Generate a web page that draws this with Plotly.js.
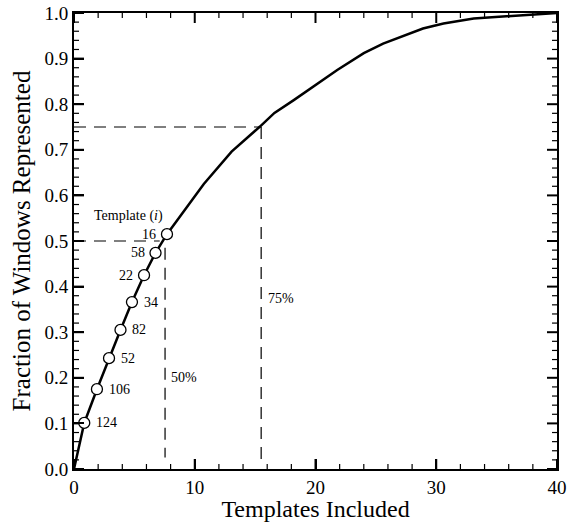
<!DOCTYPE html>
<html>
<head>
<meta charset="utf-8">
<script src="https://cdn.plot.ly/plotly-3.0.1.min.js"></script>
<style>html,body{margin:0;padding:0;background:#fff;}#chart{width:573px;height:522px;}</style>
</head>
<body>
<div id="chart"></div>
<script>
// Cumulative curve (templates included vs fraction of windows represented)
const curveX = [0, 0.85, 1.9, 2.9, 3.85, 4.8, 5.8, 6.75, 7.7, 10.75, 13.05, 15.4, 16.6, 18.2, 21.8, 24.0, 25.6, 28.9, 30.6, 33.1, 38.0, 40];
const curveY = [0, 0.101, 0.175, 0.243, 0.305, 0.366, 0.425, 0.474, 0.515, 0.625, 0.696, 0.751, 0.781, 0.809, 0.875, 0.912, 0.933, 0.966, 0.977, 0.988, 0.996, 1.0];

// First eight templates, marked with open circles
const markerX = [0.85, 1.9, 2.9, 3.85, 4.8, 5.8, 6.75, 7.7];
const markerY = [0.101, 0.175, 0.243, 0.305, 0.366, 0.425, 0.474, 0.515];
const markerLabels = ["124", "106", "52", "82", "34", "22", "58", "16"];
const labelSide = ["right", "right", "right", "right", "right", "left", "left", "left"];

// Reference lines: 50% and 75% thresholds
const half = {level: 0.5, hEnd: 7.1, vx: 7.54, vBottom: 0.025, vTop: 0.485};
const threeQ = {level: 0.75, hEnd: 15.5, vx: 15.5, vBottom: 0.01, vTop: 0.75};

// Axis ticks
const xTicks = [0, 10, 20, 30, 40];
const yTicks = [0, 0.1, 0.2, 0.3, 0.4, 0.5, 0.6, 0.7, 0.8, 0.9, 1.0];
const xMinorTicks = [2, 4, 6, 8, 12, 14, 16, 18, 22, 24, 26, 28, 32, 34, 36, 38];
const yMinorSteps = [0.02, 0.04, 0.06, 0.08];

const serif = "Liberation Serif, Times New Roman, serif";
const dashStyle = "12px,8px";

// plot-area geometry, used only to turn tick lengths (px) into axis units
const M = {l: 74, r: 16, t: 13, b: 53};
const W = 573, H = 522;
const X_RANGE = [0, 40], Y_RANGE = [0, 1];
const pxX = (X_RANGE[1] - X_RANGE[0]) / (W - M.l - M.r);
const pxY = (Y_RANGE[1] - Y_RANGE[0]) / (H - M.t - M.b);

// inside tick marks on all four sides, drawn as line segments
function tickTrace(xs, ys, len, width) {
  const tx = [], ty = [];
  xs.forEach(v => {
    tx.push(v, v, null, v, v, null);
    ty.push(Y_RANGE[0], Y_RANGE[0] + len * pxY, null, Y_RANGE[1], Y_RANGE[1] - len * pxY, null);
  });
  ys.forEach(v => {
    tx.push(X_RANGE[0], X_RANGE[0] + len * pxX, null, X_RANGE[1], X_RANGE[1] - len * pxX, null);
    ty.push(v, v, null, v, v, null);
  });
  return {x: tx, y: ty, mode: "lines", line: {color: "#000", width: width}, connectgaps: false, hoverinfo: "skip"};
}
const yMinorTicks = [];
yTicks.slice(0, -1).forEach(b => yMinorSteps.forEach(s => yMinorTicks.push(+(b + s).toFixed(2))));

const traces = [
  {x: [0, half.hEnd], y: [half.level, half.level], mode: "lines", line: {color: "#000", width: 1.2, dash: dashStyle}, hoverinfo: "skip"},
  {x: [half.vx, half.vx], y: [half.vTop, half.vBottom], mode: "lines", line: {color: "#000", width: 1.2, dash: dashStyle}, hoverinfo: "skip"},
  {x: [0, threeQ.hEnd], y: [threeQ.level, threeQ.level], mode: "lines", line: {color: "#000", width: 1.2, dash: dashStyle}, hoverinfo: "skip"},
  {x: [threeQ.vx, threeQ.vx], y: [threeQ.vTop, threeQ.vBottom], mode: "lines", line: {color: "#000", width: 1.2, dash: dashStyle}, hoverinfo: "skip"},
  tickTrace(xTicks, yTicks, 10, 2),
  tickTrace(xMinorTicks, yMinorTicks, 5, 1.2),
  {x: curveX, y: curveY, mode: "lines", line: {color: "#000", width: 2.5}, hoverinfo: "skip"},
  {x: markerX, y: markerY, mode: "markers", marker: {symbol: "circle", size: 11, color: "#fff", line: {color: "#000", width: 1.3}}, hoverinfo: "skip"}
];

const annotations = markerLabels.map((t, i) => ({
  x: markerX[i], y: markerY[i], xref: "x", yref: "y", text: t, showarrow: false,
  xanchor: labelSide[i] === "right" ? "left" : "right",
  xshift: labelSide[i] === "right" ? 10 : -9,
  font: {family: serif, size: 14, color: "#000"}
}));
annotations.push({x: 1.5, y: 0.555, xref: "x", yref: "y", text: "Template (<i>i</i>)", showarrow: false, xanchor: "left", font: {family: serif, size: 14, color: "#000"}});
annotations.push({x: half.vx, y: 0.2, xref: "x", yref: "y", text: "50%", showarrow: false, xanchor: "left", xshift: 4, font: {family: serif, size: 14, color: "#000"}});
annotations.push({x: threeQ.vx, y: 0.375, xref: "x", yref: "y", text: "75%", showarrow: false, xanchor: "left", xshift: 5, font: {family: serif, size: 14, color: "#000"}});

const layout = {
  width: W, height: H,
  margin: M,
  showlegend: false,
  font: {family: serif, color: "#000"},
  xaxis: {
    range: X_RANGE, tickmode: "array", tickvals: xTicks, ticktext: xTicks.map(String),
    ticks: "inside", ticklen: 10, tickwidth: 2, tickcolor: "#000",
    showline: true, linecolor: "#000", linewidth: 2, mirror: true,
    showgrid: true, gridcolor: "rgba(0,0,0,0)",
    zerolinecolor: "#000", zerolinewidth: 2,
    tickfont: {family: serif, size: 19, color: "#000"},
    title: {text: "Templates Included", font: {family: serif, size: 24, color: "#000"}, standoff: 3}
  },
  yaxis: {
    range: Y_RANGE, tickmode: "array", tickvals: yTicks, ticktext: yTicks.map(v => v.toFixed(1)),
    ticks: "inside", ticklen: 10, tickwidth: 2, tickcolor: "#000",
    showline: true, linecolor: "#000", linewidth: 2, mirror: true,
    showgrid: true, gridcolor: "rgba(0,0,0,0)",
    zerolinecolor: "#000", zerolinewidth: 2,
    tickfont: {family: serif, size: 19, color: "#000"},
    title: {text: "Fraction of Windows Represented", font: {family: serif, size: 25, color: "#000"}, standoff: 7}
  },
  annotations: annotations
};

Plotly.newPlot("chart", traces, layout, {staticPlot: true});
</script>
</body>
</html>
